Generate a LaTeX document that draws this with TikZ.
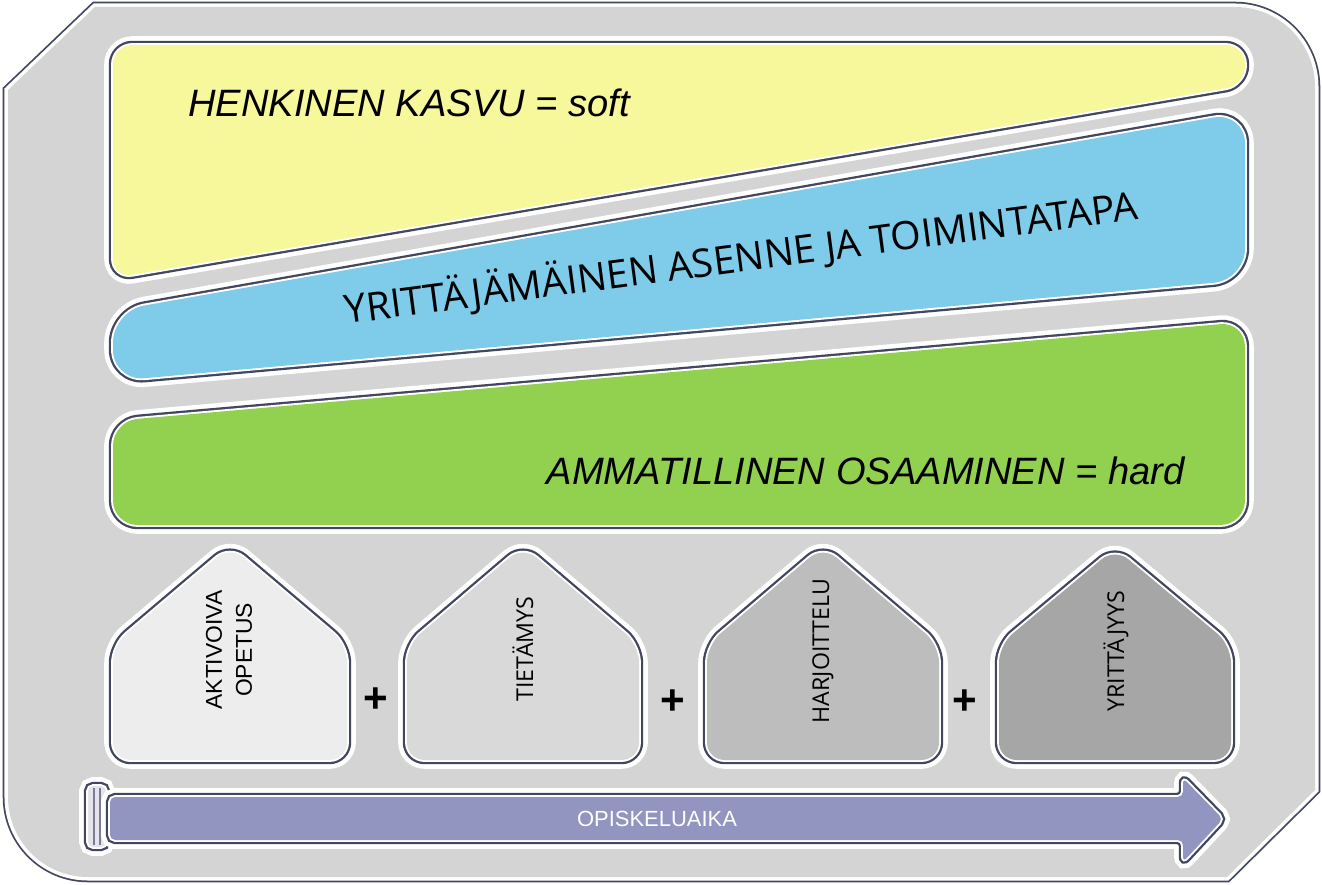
\documentclass[tikz,border=0pt]{standalone}
\usepackage{fontspec}
\setmainfont{Liberation Sans}
\newfontfamily\opensans{Open Sans}
\usetikzlibrary{positioning}
\definecolor{frameg}{HTML}{D4D4D4}
\definecolor{slate}{HTML}{42465E}
\definecolor{softy}{HTML}{F7F79B}
\definecolor{attb}{HTML}{7ECBEA}
\definecolor{hardg}{HTML}{92D050}
\definecolor{timel}{HTML}{9195BF}

\begin{document}
\begin{tikzpicture}[x=0.02cm,y=-0.02cm,
  every node/.style={inner sep=0pt},
  frame/.style={
    fill=frameg,
    preaction={draw=slate,line width=6pt},
    preaction={draw=white,line width=4pt}
  },
  rim/.style={
    preaction={draw=white,line width=10pt},
    preaction={draw=slate,line width=4.8pt},
    preaction={draw=white,line width=2.2pt}
  },
  band/.style={rim,rounded corners=#1},
  house/.style={rim,rounded corners=10pt},
  hlabel/.style={rotate=90,font=\opensans\fontsize{13.2}{15}\selectfont},
  plus/.style={font=\bfseries\fontsize{24}{26}\selectfont},
  title/.style={font=\itshape\fontsize{21.7}{24}\selectfont}
]
\fill[white] (0,0) rectangle (1322,885);
\useasboundingbox (0,0) rectangle (1322,885);

\path[frame] (8,90) -- (95,7) -- (1235,7) arc[start angle=270,end angle=360,radius=80]
  -- (1315,790) -- (1227,877) -- (88,877) arc[start angle=90,end angle=180,radius=80] -- cycle;

\path[band=11pt,fill=softy] (113,45) -- (1245,45) -- (1245,85) -- (113,278) -- cycle;
\path[band=18pt,fill=attb] (113,311) -- (1245,112) -- (1245,280) -- (113,381) -- cycle;
\path[band=14pt,fill=hardg] (113,421) -- (1245,322) -- (1245,525) -- (113,525) -- cycle;

\node[title,anchor=base west] (soft) at (188,117) {HENKINEN KASVU = soft};
\node[rotate=7.5,font=\opensans\fontsize{22.3}{25}\selectfont] (attitude) at (741,258)
  {YRITTÄJÄMÄINEN ASENNE JA TOIMINTATAPA};
\node[title,anchor=base east] (hard) at (1185,484) {AMMATILLINEN OSAAMINEN = hard};

\path[house,fill=black!7] (113,760) -- (113,645) -- (230,546) -- (347,645) -- (347,760) -- cycle;
\path[house,fill=black!15] (407,760) -- (407,645) -- (523,546) -- (639,645) -- (639,760) -- cycle;
\path[house,fill=black!26] (707,760) -- (707,645) -- (823,546) -- (939,645) -- (939,760) -- cycle;
\path[house,fill=black!35] (999,760) -- (999,645) -- (1115,548) -- (1231,645) -- (1231,760) -- cycle;

\node[rotate=90,align=center,font=\fontsize{13}{17}\selectfont] (hA) at (229,650) {AKTIVOIVA\\OPETUS};
\node[hlabel] (hB) at (523,649) {TIETÄMYS};
\node[hlabel] (hC) at (823,651) {HARJOITTELU};
\node[hlabel] (hD) at (1116,651) {YRITTÄJYYS};

\node[plus] (p1) at (376,700) {+};
\node[plus] (p2) at (673,702) {+};
\node[plus] (p3) at (965,702) {+};

\path[rim,fill=timel!25,rounded corners=3pt] (88,786) rectangle (106,847);
\draw[slate!70,line width=0.8pt] (94,788) -- (94,845) (100,788) -- (100,845);
\path[rim,fill=timel,rounded corners=3pt] (110,797) -- (1183,797) -- (1183,778) -- (1223,819)
  -- (1183,862) -- (1183,840) -- (110,840) -- cycle;
\node[text=white,font=\fontsize{12.5}{15}\selectfont] (time) at (657,819) {OPISKELUAIKA};
\end{tikzpicture}
\end{document}
